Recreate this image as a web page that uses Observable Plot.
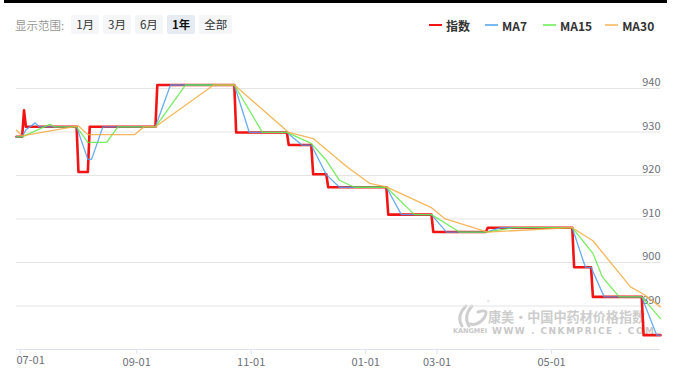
<!DOCTYPE html>
<html><head><meta charset="utf-8">
<script src="https://cdn.jsdelivr.net/npm/d3@7"></script>
<script src="https://cdn.jsdelivr.net/npm/@observablehq/plot@0.6"></script>
<style>
body{margin:0;background:#fff;font-family:"Noto Sans CJK SC","Noto Sans",sans-serif;}
#wrap{position:relative;width:673px;height:376px;overflow:hidden;background:#fff;}
#topline{position:absolute;left:4px;top:0;width:663px;height:3px;background:#000;}
#range{position:absolute;left:15px;top:15px;height:19px;display:flex;align-items:center;font-size:11.5px;}
#range .lab{color:#999;margin-right:7px;}
#range .btn{height:19px;line-height:19px;padding:0 5px;margin-right:4px;background:#f5f6f8;color:#333;border-radius:2px;}
#range .btn.on{background:#e6ebf4;font-weight:bold;color:#111;}
#legend{position:absolute;top:16px;left:429px;height:18px;display:flex;align-items:center;font-size:12px;font-weight:bold;color:#333;}
#legend .it{display:flex;align-items:center;}
#legend .sw{width:13px;height:2px;margin-right:4px;}
#wm{position:absolute;left:0;top:0;width:673px;height:376px;}
#chart{position:absolute;left:0;top:0;}
</style></head><body>
<div id="wrap">
  <div id="topline"></div>
  <div id="wm">
    <svg width="673" height="376">
      <g fill="none" stroke="#cfcfcf" stroke-width="3" stroke-linecap="round">
        <path d="M466 306 Q456 316 462 326"/>
        <path d="M472 306 Q463 316 469 326"/>
        <path d="M478 312 Q490 308 484 318 Q478 326 470 324"/>
      </g>
      <text x="487" y="304" font-size="5" fill="#cfcfcf">®</text>
      <text x="488" y="322" font-size="13.1" font-weight="bold" fill="#cdcdcd" font-family="Noto Sans CJK SC">康美·中国中药材价格指数</text>
      <text x="453" y="333" font-size="6.5" font-weight="bold" fill="#c8c8c8" font-family="DejaVu Sans">KANGMEI</text>
      <text x="492" y="334" font-size="9" font-weight="bold" fill="#c8c8c8" letter-spacing="1.5" font-family="DejaVu Sans">WWW . CNKMPRICE . COM</text>
    </svg>
  </div>
  <div id="chart"></div>
  <div id="range"></div>
  <div id="legend"></div>
</div>
<script>
// ---- data ----
const rangeButtons = ["1月", "3月", "6月", "1年", "全部"];
const activeRange = "1年";
const seriesNames = ["指数", "MA7", "MA15", "MA30"];
const seriesColors = ["#f01414", "#4f9ff2", "#62ea46", "#f3aa3e"];
const legendColors = ["#f01414", "#7ab8f2", "#8cf07a", "#f6c783"];

const yTicks = [890, 900, 910, 920, 930, 940];
const tickIdx = [2, 64, 125, 186, 224, 285];
const tickLabels = ["07-01", "09-01", "11-01", "01-01", "03-01", "05-01"];

const indexSeries = [[0,928.9],[3,928.9],[4,935.0],[5,931.2],[32,931.2],[33,920.8],[38,920.8],[39,931.2],[74,931.2],[75,940.8],[116,940.8],[117,929.9],[144,929.9],[145,927.0],[157,927.0],[158,920.3],[165,920.3],[166,917.3],[197,917.3],[198,911.0],[221,911.0],[222,907.0],[250,907.0],[251,908.0],[296,908.0],[297,898.9],[306,898.9],[307,892.1],[333,892.1],[334,883.3],[343,883.3]];
const ma7 = [[0,928.9],[3,928.9],[5,930.5],[10,932.1],[12,931.2],[32,931.2],[38,923.7],[40,923.7],[46,931.2],[74,931.2],[82,940.8],[116,940.8],[124,929.9],[144,929.9],[152,927.0],[157,927.0],[165,920.2],[172,917.3],[197,917.3],[205,911.0],[221,911.0],[229,907.0],[250,907.0],[258,908.0],[296,908.0],[303,898.9],[306,898.9],[313,892.1],[333,892.1],[341,883.3],[343,883.3]];
const ma15 = [[0,928.9],[3,928.9],[18,931.8],[20,931.2],[32,931.2],[38,927.6],[48,927.6],[54,931.2],[74,931.2],[90,940.8],[116,940.8],[131,929.9],[144,929.9],[157,927.4],[165,923.5],[172,918.9],[180,917.3],[197,917.3],[212,911.0],[221,911.0],[236,907.0],[250,907.0],[265,908.0],[296,908.0],[307,902.1],[312,896.7],[321,892.1],[333,892.1],[343,887.1]];
const ma30 = [[0,930.4],[3,929.1],[33,931.4],[38,929.4],[63,929.4],[68,931.2],[74,931.2],[105,940.8],[116,940.8],[145,929.9],[158,928.5],[165,926.0],[176,922.0],[188,918.2],[197,917.4],[221,912.6],[228,910.1],[251,907.0],[296,908.0],[307,905.0],[327,894.4],[334,892.7],[343,889.8]];

// ---- header ----
const range = document.getElementById("range");
range.innerHTML = `<span class="lab">显示范围:</span>` +
  rangeButtons.map(b => `<span class="btn${b === activeRange ? " on" : ""}">${b}</span>`).join("");
const legend = document.getElementById("legend");
const gaps = [15, 16, 13, 0];
legend.innerHTML = seriesNames.map((n, i) =>
  `<span class="it" style="margin-right:${gaps[i]}px"><span class="sw" style="background:${legendColors[i]}"></span>${n}</span>`).join("");

// ---- chart ----
const allSeries = [indexSeries, ma7, ma15, ma30];
const widths = [2.6, 1.3, 1.3, 1.3];
const opac = [1, 0.85, 0.85, 0.85];
const font = '"Noto Sans CJK SC","Noto Sans",sans-serif';

const chart = Plot.plot({
  width: 673, height: 376,
  marginLeft: 16, marginRight: 13, marginTop: 88, marginBottom: 27,
  x: {type: "linear", domain: [0, 343], axis: null},
  y: {type: "linear", domain: [880, 940], axis: null},
  style: {background: "transparent", fontFamily: font, overflow: "visible"},
  marks: [
    Plot.ruleY(yTicks, {stroke: "#e4e4e4", strokeWidth: 1}),
    Plot.ruleY([880], {stroke: "#dde3ee", strokeWidth: 1.2}),
    Plot.axisX(tickIdx, {anchor: "bottom", tickSize: 5, tickPadding: 4, stroke: "#dde3ee", strokeOpacity: 1, fill: "#6e7079", fontSize: 11,
      tickFormat: (d) => { const i = tickIdx.indexOf(d); return i === 0 ? "" : tickLabels[i]; }}),
    Plot.text([tickLabels[0]], {x: () => 0, frameAnchor: "bottom", text: d => d, textAnchor: "start", dy: 14, fill: "#6e7079", fontSize: 11}),
    Plot.text(yTicks, {y: d => d, text: d => String(d), frameAnchor: "right", textAnchor: "end", dy: -6, fill: "#6e7079", fontSize: 11}),
    ...allSeries.map((s, i) => Plot.line(s, {x: d => d[0], y: d => d[1], stroke: seriesColors[i], strokeWidth: widths[i], strokeOpacity: opac[i], strokeLinejoin: "round", curve: "linear"}))
  ]
});
document.getElementById("chart").appendChild(chart);
</script>
</body></html>
